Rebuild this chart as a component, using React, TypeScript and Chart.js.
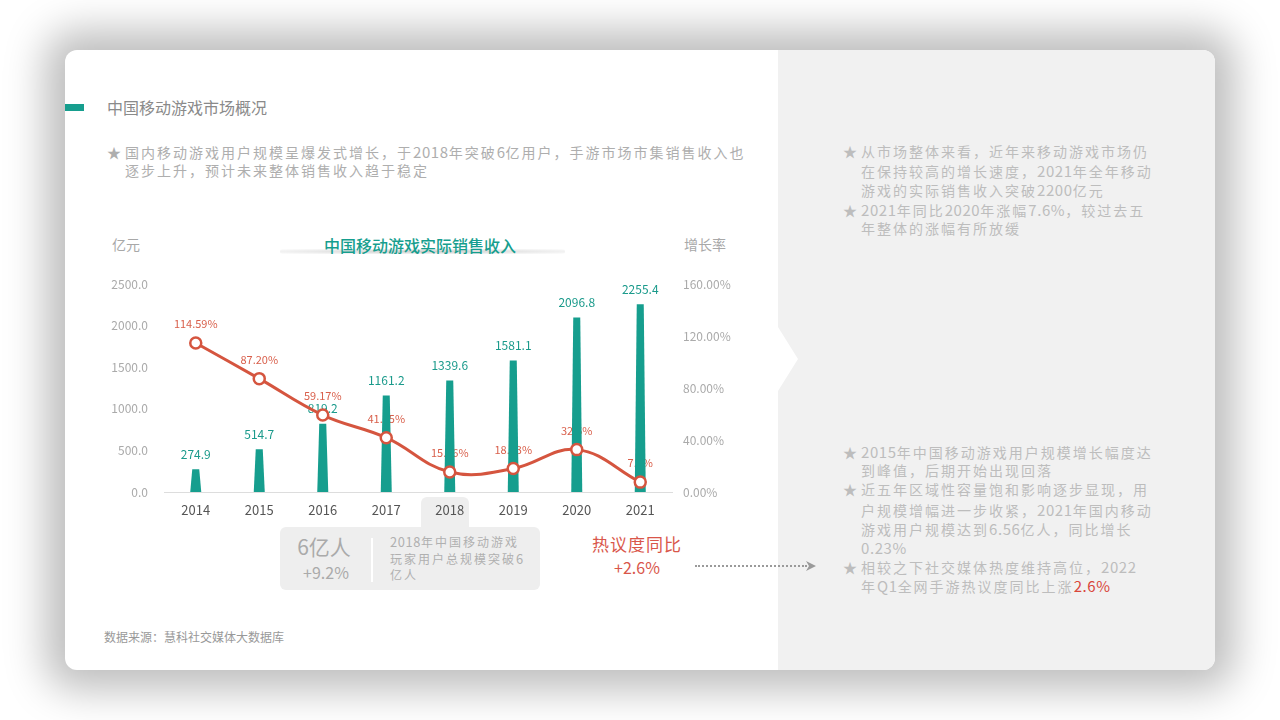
import React, { useEffect, useRef } from "react";
import { Chart, registerables } from "chart.js";

Chart.register(...registerables);

const years = ["2014", "2015", "2016", "2017", "2018", "2019", "2020", "2021"];
const revenue = [274.9, 514.7, 819.2, 1161.2, 1339.6, 1581.1, 2096.8, 2255.4];
const growth = [114.59, 87.2, 59.17, 41.75, 15.36, 18.03, 32.6, 7.6];
const growthLabels = ["114.59%", "87.20%", "59.17%", "41.75%", "15.36%", "18.03%", "32.6%", "7.6%"];

const TEAL = "#169e8e";
const RED = "#d5553f";
const FONT = '"Noto Sans CJK SC", "Noto Sans", sans-serif';

const customDraw = {
  id: "customDraw",
  beforeDatasetsDraw(chart: any) {
    const ctx = chart.ctx;
    const meta = chart.getDatasetMeta(1);
    ctx.save();
    ctx.font = `11px ${FONT}`;
    ctx.fillStyle = "#d9604c";
    ctx.textAlign = "center";
    ctx.textBaseline = "middle";
    meta.data.forEach((el: any, i: number) => {
      ctx.fillText(growthLabels[i], el.x, el.y - 19);
    });
    ctx.restore();
  },
  beforeDatasetDraw(chart: any, args: any) {
    if (args.index !== 0) return;
    const ctx = chart.ctx;
    const meta = chart.getDatasetMeta(0);
    ctx.save();
    ctx.fillStyle = TEAL;
    meta.data.forEach((el: any) => {
      const top = el.y;
      const base = el.base;
      ctx.beginPath();
      ctx.moveTo(el.x - 5.5, base);
      ctx.lineTo(el.x - 3.5, top);
      ctx.lineTo(el.x + 3.5, top);
      ctx.lineTo(el.x + 5.5, base);
      ctx.closePath();
      ctx.fill();
    });
    ctx.font = `12px ${FONT}`;
    ctx.fillStyle = "#1a9a8b";
    ctx.textAlign = "center";
    ctx.textBaseline = "middle";
    meta.data.forEach((el: any, i: number) => {
      ctx.fillText(revenue[i].toFixed(1), el.x, el.y - 15);
    });
    ctx.restore();
    return false;
  },
};

function RevenueChart() {
  const ref = useRef<HTMLCanvasElement>(null);
  useEffect(() => {
    if (!ref.current) return;
    const chart = new Chart(ref.current, {
      data: {
        labels: years,
        datasets: [
          {
            type: "bar",
            label: "实际销售收入",
            data: revenue,
            yAxisID: "y",
            backgroundColor: TEAL,
            order: 1,
          },
          {
            type: "line",
            label: "增长率",
            data: growth,
            yAxisID: "y1",
            borderColor: RED,
            borderWidth: 3,
            tension: 0.4,
            pointRadius: 5.5,
            pointBorderWidth: 2.5,
            pointBackgroundColor: "#ffffff",
            pointBorderColor: RED,
            order: 0,
          },
        ],
      } as any,
      options: {
        responsive: false,
        animation: false,
        devicePixelRatio: 1,
        layout: { padding: { top: 24, left: 0, right: 0, bottom: 0 } },
        plugins: { legend: { display: false }, tooltip: { enabled: false } },
        scales: {
          x: {
            grid: { display: false, drawTicks: false },
            border: { display: true, color: "#dddddd", width: 1 },
            ticks: { color: "#555555", font: { size: 13, family: FONT }, padding: 10 },
            afterFit: (s: any) => { s.height = 38; },
          },
          y: {
            position: "left",
            min: 0,
            max: 2500,
            grid: { display: false, drawTicks: false },
            border: { display: false },
            ticks: {
              stepSize: 500,
              color: "#aaaaaa",
              font: { size: 12, family: FONT },
              padding: 16,
              callback: (v: any) => Number(v).toFixed(1),
            },
            afterFit: (s: any) => { s.width = 64; },
          },
          y1: {
            position: "right",
            min: 0,
            max: 160,
            grid: { display: false, drawTicks: false },
            border: { display: false },
            ticks: {
              stepSize: 40,
              color: "#aaaaaa",
              font: { size: 12, family: FONT },
              padding: 11,
              callback: (v: any) => Number(v).toFixed(2) + "%",
            },
            afterFit: (s: any) => { s.width = 68; },
          },
        },
      } as any,
      plugins: [customDraw],
    });
    return () => chart.destroy();
  }, []);
  return (
    <canvas
      ref={ref}
      width={640}
      height={270}
      style={{ position: "absolute", left: 100, top: 260, width: 640, height: 270 }}
    />
  );
}

const abs = (l: number, t: number, extra: any = {}) => ({ position: "absolute" as const, left: l, top: t, ...extra });

// Split a string into runs so that Latin/digit runs get tighter letter spacing
function Runs({ text }: { text: string }) {
  const parts = text.match(/[\x20-\x7e]+|[^\x20-\x7e]+/g) || [];
  return (
    <>
      {parts.map((p, i) =>
        /^[\x20-\x7e]+$/.test(p) ? (
          <span key={i} style={{ letterSpacing: 0.6, fontSize: "1.07em" }}>{p}</span>
        ) : (
          <span key={i}>{p}</span>
        )
      )}
    </>
  );
}

function Bullets({ left, top, items, color, size, spacing }: { left: number; top: number; items: any[][]; color: string; size: number; spacing: number }) {
  let row = 0;
  const out: any[] = [];
  items.forEach((lines, gi) => {
    lines.forEach((ln, li) => {
      out.push(
        <div key={gi + "-" + li} style={abs(left, top + row * 19.2, { whiteSpace: "nowrap", lineHeight: "19px", height: 19 })}>
          <span style={{ display: "inline-block", width: 18, letterSpacing: 0 }}>{li === 0 ? "★" : ""}</span>
          {typeof ln === "string" ? <Runs text={ln} /> : ln}
        </div>
      );
      row++;
    });
  });
  return <div style={{ color, fontSize: size, letterSpacing: spacing, fontFamily: FONT }}>{out}</div>;
}

export default function App() {
  return (
    <div style={{ position: "fixed", left: 0, top: 0, width: 1280, height: 720, background: "#ffffff", overflow: "hidden", fontFamily: FONT }}>
      {/* card */}
      <div
        style={abs(65, 50, {
          width: 1150,
          height: 620,
          background: "#ffffff",
          borderRadius: 12,
          boxShadow: "0 0 40px 20px rgba(0,0,0,0.26)",
          overflow: "hidden",
        })}
      >
        <div style={abs(713, 0, { width: 437, height: 620, background: "#f1f1f1" })} />
        <div style={abs(713, 277, { width: 20, height: 64, background: "#ffffff", clipPath: "polygon(0 0, 100% 50%, 0 100%)" })} />
      </div>

      {/* header */}
      <div style={abs(65, 104, { width: 19, height: 7, background: TEAL })} />
      <div style={abs(107, 96, { fontSize: 16, color: "#8a8a8a", lineHeight: "22px", whiteSpace: "nowrap" })}>中国移动游戏市场概况</div>

      <Bullets
        left={107}
        top={142}
        color="#aeaeae"
        size={14}
        spacing={2}
        items={[["国内移动游戏用户规模呈爆发式增长，于2018年突破6亿用户，手游市场市集销售收入也", "逐步上升，预计未来整体销售收入趋于稳定"]]}
      />

      {/* chart titles */}
      <div style={abs(280, 249, { width: 285, height: 5, borderRadius: 3, background: "radial-gradient(ellipse at center, rgba(0,0,0,0.2) 0%, rgba(0,0,0,0.07) 60%, rgba(0,0,0,0) 100%)" })} />
      <div style={abs(280, 234, { width: 280, textAlign: "center", fontSize: 16, color: TEAL, fontWeight: 500, lineHeight: "22px", whiteSpace: "nowrap" })}>中国移动游戏实际销售收入</div>
      <div style={abs(112, 234, { fontSize: 14, color: "#a8a8a8", lineHeight: "20px" })}>亿元</div>
      <div style={abs(684, 234, { fontSize: 14, color: "#a8a8a8", lineHeight: "20px" })}>增长率</div>

      {/* 2018 tab and info box */}
      <div style={abs(421, 497, { width: 48, height: 34, background: "#eeeeee", borderRadius: "6px 6px 0 0" })} />
      <div style={abs(280, 527, { width: 260, height: 63, background: "#eeeeee", borderRadius: 6 })}>
        <div style={abs(0, 6, { width: 88, textAlign: "center", fontSize: 21, color: "#aaaaaa", lineHeight: "26px", whiteSpace: "nowrap" })}>6亿人</div>
        <div style={abs(0, 35, { width: 92, textAlign: "center", fontSize: 16, color: "#aaaaaa", lineHeight: "20px", whiteSpace: "nowrap" })}>+9.2%</div>
        <div style={abs(91, 11, { width: 2, height: 44, background: "#ffffff" })} />
        <div style={abs(110, 7, { fontSize: 12, letterSpacing: 2, color: "#b0b0b0", lineHeight: "16.5px", whiteSpace: "nowrap" })}>
          <div><Runs text="2018年中国移动游戏" /></div>
          <div><Runs text="玩家用户总规模突破6" /></div>
          <div>亿人</div>
        </div>
      </div>

      <RevenueChart />

      {/* heat */}
      <div style={abs(577, 533, { width: 120, textAlign: "center", fontSize: 17, color: "#d9564a", lineHeight: "22px", whiteSpace: "nowrap", letterSpacing: 1 })}>热议度同比</div>
      <div style={abs(577, 557, { width: 120, textAlign: "center", fontSize: 16, color: "#d9564a", lineHeight: "20px", whiteSpace: "nowrap" })}>+2.6%</div>
      <div style={abs(695, 565, { width: 112, height: 0, borderTop: "2px dotted #9a9a9a" })} />
      <div style={abs(806, 561, { width: 10, height: 10, background: "#9a9a9a", clipPath: "polygon(0 0, 100% 50%, 0 100%, 30% 50%)" })} />

      {/* right panel */}
      <Bullets
        left={843}
        top={142}
        color="#bdbdbd"
        size={14}
        spacing={2}
        items={[
          ["从市场整体来看，近年来移动游戏市场仍", "在保持较高的增长速度，2021年全年移动", "游戏的实际销售收入突破2200亿元"],
          ["2021年同比2020年涨幅7.6%，较过去五", "年整体的涨幅有所放缓"],
        ]}
      />
      <Bullets
        left={843}
        top={442}
        color="#bdbdbd"
        size={14}
        spacing={2}
        items={[
          ["2015年中国移动游戏用户规模增长幅度达", "到峰值，后期开始出现回落"],
          ["近五年区域性容量饱和影响逐步显现，用", "户规模增幅进一步收紧，2021年国内移动", "游戏用户规模达到6.56亿人，同比增长", "0.23%"],
          ["相较之下社交媒体热度维持高位，2022", <span key="x">年<Runs text="Q1" />全网手游热议度同比上涨<span style={{ color: "#d9463a" }}><Runs text="2.6%" /></span></span>],
        ]}
      />

      <div style={abs(104, 629, { fontSize: 12, color: "#999999", lineHeight: "16px", whiteSpace: "nowrap" })}>数据来源：慧科社交媒体大数据库</div>
    </div>
  );
}
